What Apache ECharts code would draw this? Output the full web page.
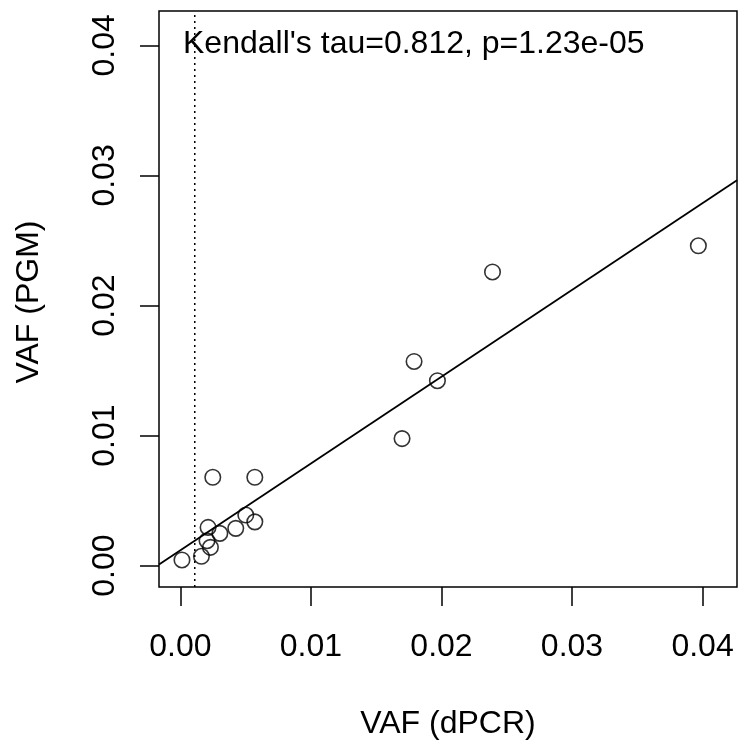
<!DOCTYPE html>
<html>
<head>
<meta charset="utf-8">
<script src="https://cdn.jsdelivr.net/npm/echarts@6/dist/echarts.min.js"></script>
<style>html,body{margin:0;padding:0;background:#fff;}#c{width:738px;height:744px;}</style>
</head>
<body>
<div id="c"></div>
<script>
// Data
const vafDPCR = [0.00012, 0.00161, 0.00212, 0.00204, 0.0023, 0.00302, 0.00424, 0.00501, 0.0057, 0.00248, 0.0057, 0.02391, 0.0179, 0.01969, 0.01698, 0.03968];
const vafPGM  = [0.00044, 0.00072, 0.00294, 0.00192, 0.00141, 0.00248, 0.00287, 0.00389, 0.00337, 0.0068, 0.0068, 0.02258, 0.0157, 0.01422, 0.00977, 0.02459];
const tickValues = [0, 0.01, 0.02, 0.03, 0.04];
const tickLabels = ['0.00', '0.01', '0.02', '0.03', '0.04'];
const axisRange = [-0.00164, 0.04264];
const fitIntercept = 0.00119;
const fitSlope = 0.667;
const cutoffX = 0.0011;
const annotation = "Kendall's tau=0.812, p=1.23e-05";
const xTitle = 'VAF (dPCR)';
const yTitle = 'VAF (PGM)';

const FONT = '"Liberation Sans", Arial, Helvetica, sans-serif';
const FS = 32;
const points = vafDPCR.map((x, i) => [x, vafPGM[i]]);
const fitLine = axisRange.map(x => [x, fitIntercept + fitSlope * x]);
const cutoffLine = axisRange.map(y => [cutoffX, y]);
const labelFmt = v => { const i = tickValues.findIndex(t => Math.abs(t - v) < 1e-9); return i >= 0 ? tickLabels[i] : ''; };

const chart = echarts.init(document.getElementById('c'), null, {renderer: 'canvas'});
chart.setOption({
  animation: false,
  backgroundColor: '#fff',
  grid: {left: 159, top: 11, width: 578, height: 576, show: true, borderColor: '#000', borderWidth: 1.5, backgroundColor: 'transparent'},
  xAxis: {
    type: 'value', min: axisRange[0], max: axisRange[1],
    axisLine: {show: false, onZero: false}, splitLine: {show: false},
    axisTick: {show: true, inside: false, length: 19, lineStyle: {color: '#000', width: 1.5}, customValues: tickValues},
    axisLabel: {customValues: tickValues, formatter: labelFmt, margin: 44, fontSize: FS, fontFamily: FONT, color: '#000'}
  },
  yAxis: {
    type: 'value', min: axisRange[0], max: axisRange[1],
    axisLine: {show: false, onZero: false}, splitLine: {show: false},
    axisTick: {show: true, inside: false, length: 19, lineStyle: {color: '#000', width: 1.5}, customValues: tickValues},
    axisLabel: {customValues: tickValues, formatter: labelFmt, rotate: 90, margin: 38, fontSize: FS, fontFamily: FONT, color: '#000'}
  },
  graphic: [
    {type: 'text', left: 183, top: 28, style: {text: annotation, font: FS + 'px ' + FONT, fill: '#000'}},
    {type: 'text', x: 448, y: 724, style: {text: xTitle, font: FS + 'px ' + FONT, fill: '#000', align: 'center', verticalAlign: 'middle'}},
    {type: 'text', x: 29, y: 302, rotation: Math.PI / 2, style: {text: yTitle, font: FS + 'px ' + FONT, fill: '#000', align: 'center', verticalAlign: 'middle'}}
  ],
  series: [
    {
      type: 'line', data: fitLine, showSymbol: false, symbol: 'none',
      lineStyle: {color: '#000', width: 1.8}, clip: true, silent: true
    },
    {
      type: 'line', data: cutoffLine, showSymbol: false, symbol: 'none',
      lineStyle: {color: '#000', width: 1.5, type: [2, 4]}, clip: true, silent: true
    },
    {
      type: 'scatter', data: points, symbol: 'circle', symbolSize: 15.5,
      itemStyle: {color: 'rgba(0,0,0,0)', borderColor: '#000', borderWidth: 1.6}
    }
  ]
});
</script>
</body>
</html>
